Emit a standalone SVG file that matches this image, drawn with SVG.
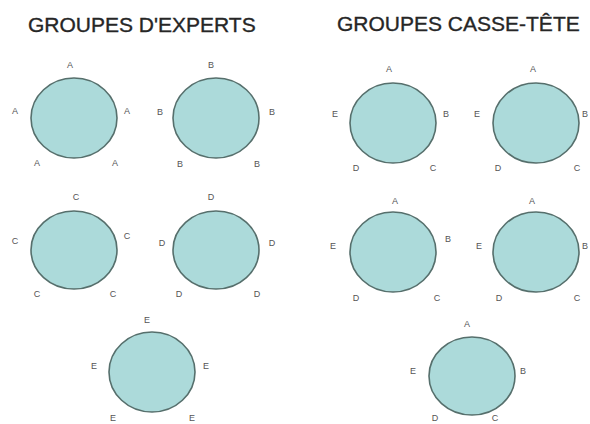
<svg xmlns="http://www.w3.org/2000/svg" width="590" height="424" viewBox="0 0 590 424">
<style>
.title{font-family:"Liberation Sans",Arial,sans-serif;font-size:21px;fill:#262626;stroke:#262626;stroke-width:0.35}
.lb{font-family:"Liberation Sans",Arial,sans-serif;font-size:9px;fill:#555;text-anchor:middle}
.c{fill:#acdada;stroke:#566f6c;stroke-width:1.6}
</style>
<rect width="590" height="424" fill="#fff"/>
<text class="title" x="28" y="32">GROUPES D'EXPERTS</text>
<text class="title" x="337" y="31">GROUPES CASSE-TÊTE</text>
<g id="expA">
<ellipse class="c" cx="74" cy="118" rx="43" ry="40"/>
<text class="lb" x="70" y="68">A</text><text class="lb" x="15" y="114">A</text><text class="lb" x="127" y="114">A</text><text class="lb" x="37" y="166">A</text><text class="lb" x="115" y="166">A</text>
</g>
<g id="expB">
<ellipse class="c" cx="216" cy="118" rx="43" ry="40"/>
<text class="lb" x="211" y="68">B</text><text class="lb" x="160" y="115">B</text><text class="lb" x="272" y="115">B</text><text class="lb" x="180" y="167">B</text><text class="lb" x="257" y="167">B</text>
</g>
<g id="expC">
<ellipse class="c" cx="74" cy="250" rx="43" ry="39"/>
<text class="lb" x="76" y="200">C</text><text class="lb" x="15" y="244">C</text><text class="lb" x="127" y="239">C</text><text class="lb" x="37" y="297">C</text><text class="lb" x="113" y="297">C</text>
</g>
<g id="expD">
<ellipse class="c" cx="216" cy="250" rx="43" ry="39"/>
<text class="lb" x="211" y="200">D</text><text class="lb" x="162" y="246">D</text><text class="lb" x="272" y="246">D</text><text class="lb" x="179" y="297">D</text><text class="lb" x="257" y="297">D</text>
</g>
<g id="expE">
<ellipse class="c" cx="152" cy="372" rx="43" ry="40"/>
<text class="lb" x="147" y="323">E</text><text class="lb" x="94" y="369">E</text><text class="lb" x="206" y="369">E</text><text class="lb" x="113" y="421">E</text><text class="lb" x="192" y="421">E</text>
</g>
<g id="puz1">
<ellipse class="c" cx="393" cy="123" rx="43" ry="40"/>
<text class="lb" x="389" y="72">A</text><text class="lb" x="335" y="117">E</text><text class="lb" x="446" y="117">B</text><text class="lb" x="356" y="171">D</text><text class="lb" x="433" y="171">C</text>
</g>
<g id="puz2">
<ellipse class="c" cx="536" cy="123" rx="43" ry="40"/>
<text class="lb" x="533" y="72">A</text><text class="lb" x="477" y="117">E</text><text class="lb" x="585" y="117">B</text><text class="lb" x="498" y="171">D</text><text class="lb" x="577" y="171">C</text>
</g>
<g id="puz3">
<ellipse class="c" cx="393" cy="252" rx="43" ry="40"/>
<text class="lb" x="395" y="204">A</text><text class="lb" x="333" y="249">E</text><text class="lb" x="448" y="242">B</text><text class="lb" x="356" y="301">D</text><text class="lb" x="437" y="301">C</text>
</g>
<g id="puz4">
<ellipse class="c" cx="536" cy="252" rx="43" ry="40"/>
<text class="lb" x="532" y="204">A</text><text class="lb" x="479" y="249">E</text><text class="lb" x="585" y="249">B</text><text class="lb" x="499" y="301">D</text><text class="lb" x="577" y="301">C</text>
</g>
<g id="puz5">
<ellipse class="c" cx="472" cy="376" rx="43" ry="39"/>
<text class="lb" x="467" y="327">A</text><text class="lb" x="413" y="374">E</text><text class="lb" x="523" y="374">B</text><text class="lb" x="435" y="421">D</text><text class="lb" x="495" y="421">C</text>
</g>
<g id="connectors"/>
</svg>
